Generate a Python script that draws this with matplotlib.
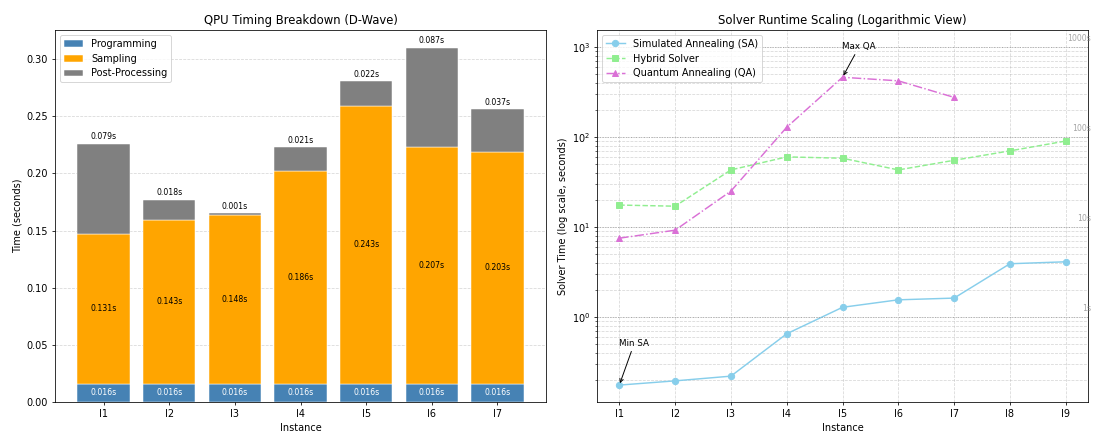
import matplotlib
matplotlib.use("Agg")
import matplotlib.pyplot as plt
import numpy as np

# ---- Data ----
qpu_instances = ["I1", "I2", "I3", "I4", "I5", "I6", "I7"]
programming = [0.016, 0.016, 0.016, 0.016, 0.016, 0.016, 0.016]
sampling = [0.131, 0.143, 0.148, 0.186, 0.243, 0.207, 0.203]
post_processing = [0.079, 0.018, 0.001, 0.021, 0.022, 0.087, 0.037]

solver_instances = ["I1", "I2", "I3", "I4", "I5", "I6", "I7", "I8", "I9"]
sa_times = [0.175, 0.195, 0.22, 0.65, 1.28, 1.55, 1.62, 3.9, 4.1]
hybrid_times = [17.5, 17.0, 43, 60, 58, 43, 55, 70, 90]
qa_times = [7.5, 9.2, 25, 128, 460, 420, 275]
ref_lines = [1, 10, 100, 1000]
ref_labels = ["1s", "10s", "100s", "1000s"]

DPI = 70
fig = plt.figure(figsize=(1094 / DPI, 432 / DPI), dpi=DPI)
ax1 = fig.add_axes([55/1094, 30/432, (546-55)/1094, (402-30)/432])
ax2 = fig.add_axes([597/1094, 30/432, (1088-597)/1094, (402-30)/432])

# ---- Left: stacked bars ----
x = np.arange(len(qpu_instances))
prog = np.array(programming)
samp = np.array(sampling)
post = np.array(post_processing)
ax1.bar(x, prog, 0.8, color="steelblue", edgecolor="white", linewidth=0.5, label="Programming")
ax1.bar(x, samp, 0.8, bottom=prog, color="orange", edgecolor="white", linewidth=0.5, label="Sampling")
ax1.bar(x, post, 0.8, bottom=prog + samp, color="gray", edgecolor="white", linewidth=0.5, label="Post-Processing")
for i in range(len(x)):
    ax1.text(x[i], prog[i] / 2, f"{prog[i]:.3f}s", ha="center", va="center", color="white", fontsize=8)
    ax1.text(x[i], prog[i] + samp[i] / 2, f"{samp[i]:.3f}s", ha="center", va="center", color="black", fontsize=8)
    ax1.text(x[i], prog[i] + samp[i] + post[i] + 0.002, f"{post[i]:.3f}s", ha="center", va="bottom", color="black", fontsize=8)
ax1.set_xticks(x)
ax1.set_xticklabels(qpu_instances)
ax1.set_xlabel("Instance")
ax1.set_ylabel("Time (seconds)")
ax1.set_title("QPU Timing Breakdown (D-Wave)")
ax1.grid(axis="y", linestyle="--", alpha=0.5)
ax1.set_axisbelow(True)
ax1.legend(loc="upper left")

# ---- Right: log scaling ----
xs = np.arange(len(solver_instances))
ax2.plot(xs, sa_times, color="skyblue", marker="o", linestyle="-", markersize=6.5, label="Simulated Annealing (SA)")
ax2.plot(xs, hybrid_times, color="lightgreen", marker="s", linestyle="--", markersize=6.5, label="Hybrid Solver")
ax2.plot(xs[:len(qa_times)], qa_times, color="orchid", marker="^", linestyle="-.", markersize=6.5, label="Quantum Annealing (QA)")
ax2.set_yscale("log")
for v, lab in zip(ref_lines, ref_labels):
    ax2.axhline(v, color="gray", linestyle=":", alpha=0.6, linewidth=1)
    ax2.text(len(solver_instances) - 0.55, v * 1.1, lab, ha="right", va="bottom", color="gray", fontsize=8, alpha=0.7)
imax = int(np.argmax(qa_times))
ax2.annotate("Max QA", xy=(xs[imax], qa_times[imax]), xytext=(xs[imax], 950),
             fontsize=9, arrowprops=dict(arrowstyle="->", color="black", lw=1))
imin = int(np.argmin(sa_times))
ax2.annotate("Min SA", xy=(xs[imin], sa_times[imin]), xytext=(xs[imin], 0.48),
             fontsize=9, arrowprops=dict(arrowstyle="->", color="black", lw=1))
ax2.set_xticks(xs)
ax2.set_xticklabels(solver_instances)
ax2.set_xlabel("Instance")
ax2.set_ylabel("Solver Time (log scale, seconds)")
ax2.set_title("Solver Runtime Scaling (Logarithmic View)")
ax2.grid(True, which="both", linestyle="--", alpha=0.5)
ax2.legend(loc="upper left")

fig.savefig("out.png", dpi=DPI)
